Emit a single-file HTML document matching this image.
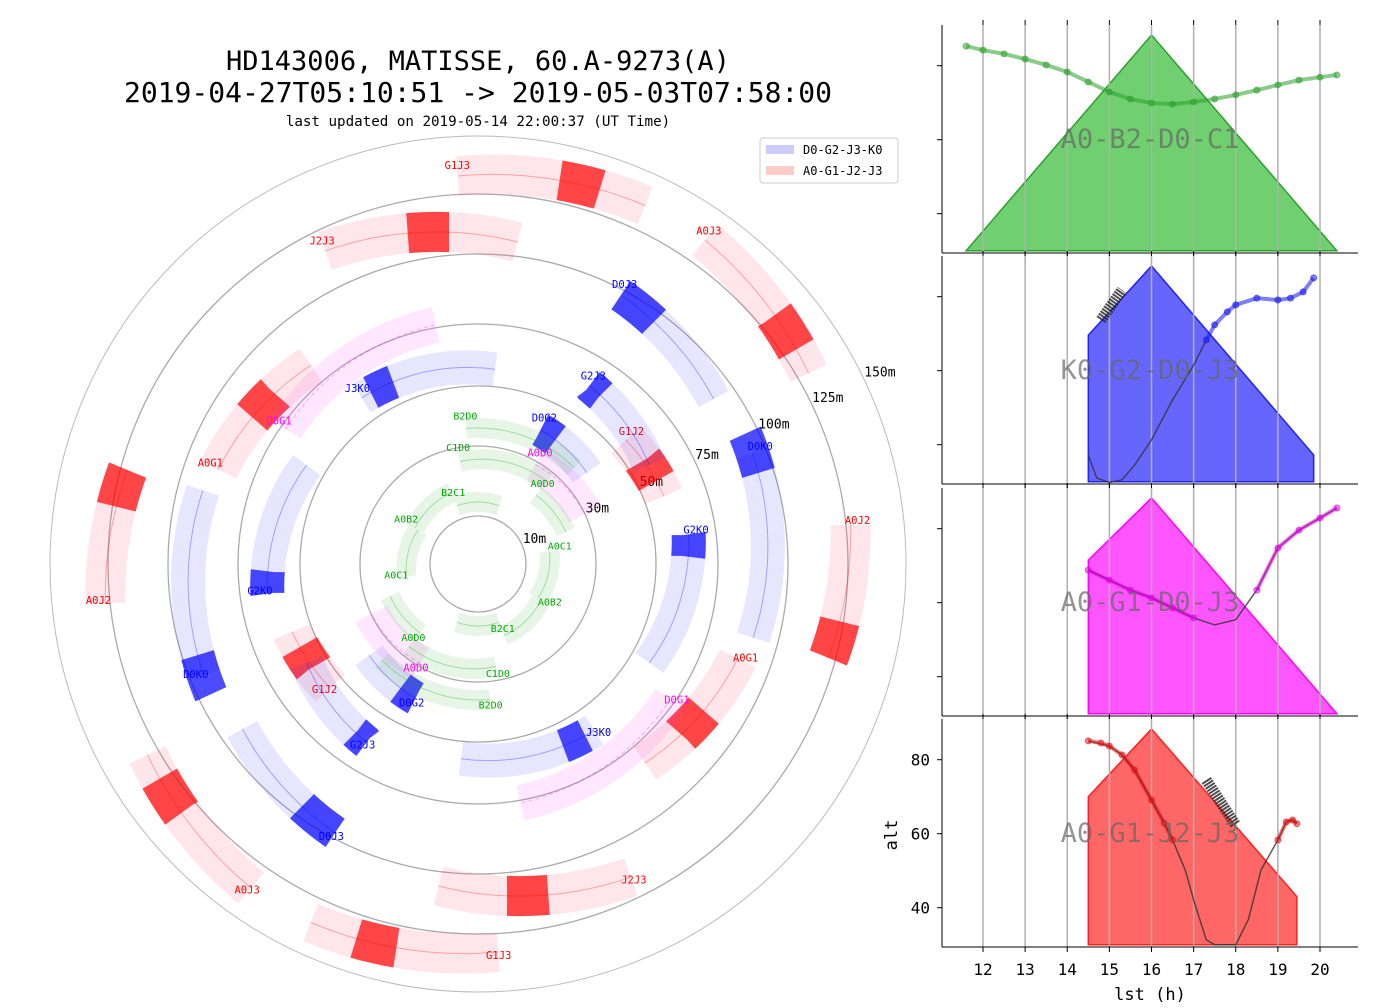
<!DOCTYPE html>
<html><head><meta charset="utf-8">
<style>
html,body{margin:0;padding:0;background:#fff;}
svg{display:block;font-family:"DejaVu Sans Mono","Liberation Mono",monospace;}
</style></head>
<body>
<svg id="chart" width="1386" height="1008" viewBox="0 0 1386 1008" xmlns="http://www.w3.org/2000/svg">
<text x="478" y="70" font-size="27" text-anchor="middle">HD143006, MATISSE, 60.A-9273(A)</text>
<text x="478" y="102" font-size="28" text-anchor="middle">2019-04-27T05:10:51 -&gt; 2019-05-03T07:58:00</text>
<text x="478" y="126" font-size="14.2" text-anchor="middle">last updated on 2019-05-14 22:00:37 (UT Time)</text>
<g id="polar"></g>
<g id="panels"></g>
<g>
<rect x="760" y="138" width="138" height="45" fill="#fff" stroke="#ccc" rx="3"/>
<rect x="766" y="145" width="28" height="9" fill="#0000ff" opacity="0.2"/>
<text x="803" y="154" font-size="12">D0-G2-J3-K0</text>
<rect x="766" y="166" width="28" height="9" fill="#ff0000" opacity="0.2"/>
<text x="803" y="175" font-size="12">A0-G1-J2-J3</text>
</g>
</svg>
<script>
// ---------- polar data ----------
const ringMeters = [10, 30, 50, 75, 100, 125, 150];
const ringLabels = ["10m","30m","50m","75m","100m","125m","150m"];
const trackNames = ["G1J3","J2J3","A0J3","A0J2","A0G1","G1J2","D0J3","D0K0","G2K0","G2J3","J3K0","D0G2","D0G1","A0D0","B2D0","C1D0","A0B2","A0C1","B2C1","A0D0"];
const trackGroup = [0,0,0,0,0,0,1,1,1,1,1,1,2,2,3,3,3,3,3,3];
const trackR0 = [133,116,136,127,88,56,98,95,64,63,60,40,73,29,36,26,17,17,14,22];
const trackR1 = [136,106,130,122,82,58,92,91,58,58,57,38,76,30,36,27,18,16,14,23];
const trackA0 = [93,116,55,6,160,40,62,22,8,58,125,65,145,60,95,100,150,190,110,50];
const trackA1 = [65,83,30,-15,130,20,35,-15,-30,30,85,40,100,25,45,50,110,150,70,20];
const denseA0 = [72,95,34,-15,140,25,54,18,2,54,115,58,null,null,null,null,null,null,null,null];
const denseA1 = [78,102,40,-9,147,32,62,26,8,58,122,65,null,null,null,null,null,null,null,null];

// ---------- panel data ----------
const panelNames = ["A0-B2-D0-C1","K0-G2-D0-J3","A0-G1-D0-J3","A0-G1-J2-J3"];
const xTicks = [12,13,14,15,16,17,18,19,20];
const yTicks = [40,60,80];
const env1Lst=[11.6,16,20.4], env1Alt=[30,88.3,30];
const env2Lst=[14.5,14.5,16,19.85,19.85], env2Alt=[30,69.6,88.3,37.2,30];
const env3Lst=[14.5,14.5,16,20.4], env3Alt=[30,71.5,88.3,30];
const env4Lst=[14.5,14.5,16,19.45,19.45], env4Alt=[30,70,88.3,43,30];
const pts1Lst=[11.6,12,12.5,13,13.5,14,14.5,15,15.5,16,16.5,17,17.5,18,18.5,19,19.5,20,20.4];
const pts1Alt=[85.3,84.2,83.2,81.8,80.2,78.3,75.6,72.9,71,69.9,69.6,70.2,71,72.1,73.4,74.8,76.1,76.9,77.5];
const line2Lst=[14.5,14.7,15,15.3,15.6,16,16.5,17,17.3];
const line2Alt=[37.2,31,29.8,30.5,34.5,41.3,52.1,61.5,68.3];
const pts2Lst=[17.3,17.5,17.8,18,18.5,19,19.3,19.6,19.85];
const pts2Alt=[68.3,72.4,75.9,77.8,79.6,79.1,79.6,81.3,85.1];
const thick2Lst=[14.8,15.3], thick2Alt=[73.7,81.8];
const line3Lst=[14.5,15,15.5,16,16.5,17,17.5,18,18.5,19,19.5,20,20.4];
const line3Alt=[68.8,66.1,63.4,61.3,58.6,55.9,54.0,55.4,63.4,74.8,79.6,82.9,85.6];
const pts3Lst=[14.5,15,15.5,16,16.5,17,18.5,19,19.5,20,20.4];
const pts3Alt=[68.8,66.1,63.4,61.3,58.6,55.9,63.4,74.8,79.6,82.9,85.6];
const line4Lst=[14.5,15,15.3,15.6,16,16.3,16.5,16.8,17,17.3,17.5,18,18.3,18.6,19,19.2,19.35,19.45];
const line4Alt=[85.1,83.7,81.3,77.2,69.1,62.9,58.3,50.2,42.1,31.3,30,30,36.8,50.2,58.3,63.2,63.7,62.7];
const pts4Lst=[14.5,14.8,15,15.3,15.6,16,16.3,16.5,19,19.2,19.35,19.45];
const pts4Alt=[85.1,84.5,83.7,81.3,77.2,69.1,62.9,58.3,58.3,63.2,63.7,62.7];
const thick4Lst=[17.3,18], thick4Alt=[74.5,62.3];

const NS="http://www.w3.org/2000/svg";
function mk(tag, attrs, parent){const e=document.createElementNS(NS,tag);for(const k in attrs)e.setAttribute(k,attrs[k]);parent.appendChild(e);return e;}

// ---------- polar ----------
const polar=document.getElementById('polar');
const cx=478, cy=564;
const ringPx=[48,118,178,240,310,370,428];
function rScale(m){
  const ms=[0].concat(ringMeters), ps=[0].concat(ringPx);
  for(let i=1;i<ms.length;i++){ if(m<=ms[i]){const t=(m-ms[i-1])/(ms[i]-ms[i-1]);return ps[i-1]+t*(ps[i]-ps[i-1]);} }
  return ps[ps.length-1];
}
function pt(m,deg){const r=rScale(m),a=deg*Math.PI/180;return [cx+r*Math.cos(a),cy-r*Math.sin(a)];}
ringMeters.forEach((m,i)=>{
  const c=mk('circle',{cx:cx,cy:cy,r:rScale(m),fill:'none',stroke:i===ringMeters.length-1?'#bbb':'#aaa','stroke-width':i===ringMeters.length-1?1:1.3},polar);
  
  
  const r=rScale(m)+4, a=26*Math.PI/180;
  const t=mk('text',{x:cx+r*Math.cos(a)-2,y:cy-r*Math.sin(a)+2,'font-size':13},polar);
  t.textContent=ringLabels[i];
  
  
});
const groupColor=['#ff0000','#0000ff','#ff00ff','#00aa00'];
const groupFill=['#ff3050','#3030ff','#ff40ff','#30b030'];
const groupWidth=[40,34,36,20];
function arcPath(i,a0,a1,off){
  const n=30;let d='';
  for(let k=0;k<=n;k++){
    const t=k/n;const a=a0+(a1-a0)*t+off;
    const fa=(trackA1[i]===trackA0[i])?0:((a-off)-trackA0[i])/(trackA1[i]-trackA0[i]);
    const m=trackR0[i]+(trackR1[i]-trackR0[i])*fa;
    const p=pt(m,a);d+=(k?'L':'M')+p[0].toFixed(1)+','+p[1].toFixed(1);
  }
  return d;
}
trackNames.forEach((nm,i)=>{
  const g=trackGroup[i];
  [0,180].forEach(off=>{
    const band=mk('path',{d:arcPath(i,trackA0[i],trackA1[i],off),fill:'none',stroke:groupFill[g],'stroke-width':groupWidth[g],'stroke-opacity':0.12},polar);
    
    
    mk('path',{d:arcPath(i,trackA0[i],trackA1[i],off),fill:'none',stroke:groupColor[g],'stroke-width':1,'stroke-opacity':0.3,'stroke-dasharray':g===2?'4,3':'none'},polar);
    if(denseA0[i]!==null){
      const dn=mk('path',{d:arcPath(i,denseA0[i],denseA1[i],off),fill:'none',stroke:groupColor[g],'stroke-width':groupWidth[g],'stroke-opacity':0.7},polar);
      
      
    }
    const p=pt(trackR0[i]+3,trackA0[i]+off);
    const lb=mk('text',{x:p[0],y:p[1],'font-size':g===3?10:10.5,fill:groupColor[g],'text-anchor':'middle'},polar);
    lb.textContent=nm;
    
    
  });
});

// ---------- panels ----------
const panels=document.getElementById('panels');
const px0=942, px1=1358;
const panelTop=[25,256,488,719], panelH=228;
function xs(h){return 983+(h-12)*42.125;}
function ys(p,a){return panelTop[p]+(91-a)*3.7;}
const fills=['#70d070','#6666ff','#ff55ff','#ff6666'];
const edges=['#2ca02c','#2020ff','#ff00ff','#ff2020'];
const dots=['#2ca02c','#1515ee','#e000e0','#e01010'];
const envL=[env1Lst,env2Lst,env3Lst,env4Lst], envA=[env1Alt,env2Alt,env3Alt,env4Alt];
const lineL=[null,line2Lst,line3Lst,line4Lst], lineA=[null,line2Alt,line3Alt,line4Alt];
const ptsL=[pts1Lst,pts2Lst,pts3Lst,pts4Lst], ptsA=[pts1Alt,pts2Alt,pts3Alt,pts4Alt];
const thL=[null,thick2Lst,null,thick4Lst], thA=[null,thick2Alt,null,thick4Alt];
for(let p=0;p<4;p++){
  const top=panelTop[p], bot=top+panelH;
  const poly=mk('polygon',{points:envL[p].map((h,k)=>xs(h)+','+ys(p,envA[p][k])).join(' '),fill:fills[p],stroke:edges[p],'stroke-width':1.5},panels);
  
  
  xTicks.forEach(h=>{
    mk('line',{x1:xs(h),x2:xs(h),y1:top,y2:bot,stroke:'#b0b0b0','stroke-width':1.5},panels);
    mk('line',{x1:xs(h),x2:xs(h),y1:bot,y2:bot+5,stroke:'#000'},panels);
    mk('line',{x1:xs(h),x2:xs(h),y1:top,y2:top-5,stroke:'#000'},panels);
  });
  yTicks.forEach(a=>{mk('line',{x1:px0-5,x2:px0,y1:ys(p,a),y2:ys(p,a),stroke:'#000'},panels);});
  if(lineL[p]){
    const ln=mk('polyline',{points:lineL[p].map((h,k)=>xs(h)+','+ys(p,lineA[p][k])).join(' '),fill:'none',stroke:'#333','stroke-width':1.5,'stroke-opacity':0.8},panels);
    
    
  }
  // split point series into segments at gaps
  let segs=[[]];
  ptsL[p].forEach((h,k)=>{
    if(k>0 && h-ptsL[p][k-1]>1) segs.push([]);
    segs[segs.length-1].push(xs(h)+','+ys(p,ptsA[p][k]));
  });
  segs.forEach(s=>{
    const pl=mk('polyline',{points:s.join(' '),fill:'none',stroke:dots[p],'stroke-width':4,'stroke-opacity':0.55},panels);
    
    
  });
  ptsL[p].forEach((h,k)=>{mk('circle',{cx:xs(h),cy:ys(p,ptsA[p][k]),r:3,fill:dots[p],'fill-opacity':0.5,stroke:dots[p],'stroke-opacity':0.6},panels);});
  if(thL[p]){
    const th=mk('line',{x1:xs(thL[p][0]),y1:ys(p,thA[p][0]),x2:xs(thL[p][1]),y2:ys(p,thA[p][1]),stroke:'#222','stroke-width':11,'stroke-opacity':0.8,'stroke-dasharray':'2,1'},panels);
    
    
  }
  mk('line',{x1:px0,x2:px0,y1:top,y2:bot,stroke:'#000'},panels);
  mk('line',{x1:px0,x2:px1,y1:bot,y2:bot,stroke:'#000'},panels);
  const t=mk('text',{x:1150,y:top+123,'font-size':27,'text-anchor':'middle',fill:'#666','fill-opacity':0.7},panels);
  t.textContent=panelNames[p];
  
  
}
xTicks.forEach(h=>{
  const t=mk('text',{x:xs(h),y:975,'font-size':16,'text-anchor':'middle'},panels);
  t.textContent=h;
  
  
});
yTicks.forEach(a=>{
  const t=mk('text',{x:930,y:ys(3,a)+6,'font-size':16,'text-anchor':'end'},panels);
  t.textContent=a;
  
  
});
const xl=mk('text',{x:1150,y:1000,'font-size':17,'text-anchor':'middle'},panels);
xl.textContent='lst (h)';


const yl=mk('text',{x:897,y:835,'font-size':17,'text-anchor':'middle',transform:'rotate(-90 897 835)'},panels);
yl.textContent='alt';


</script>
</body></html>
